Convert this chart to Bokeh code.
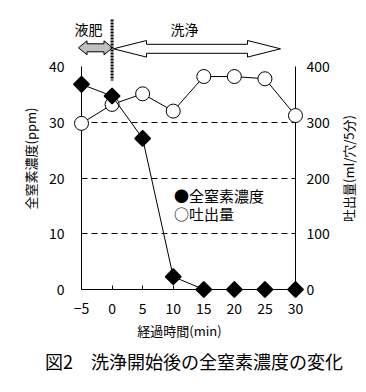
from bokeh.plotting import figure
from bokeh.models import Range1d, LinearAxis, FixedTicker
from bokeh.core.properties import value
from bokeh.embed import file_html
from bokeh.resources import INLINE
import math

# ---- data ----
times = [-5, 0, 5, 10, 15, 20, 25, 30]
total_n = [36.8, 34.7, 27.1, 2.3, 0, 0, 0, 0]          # 全窒素濃度 (ppm)
discharge = [298, 332, 351, 320, 382, 382, 378, 312]  # 吐出量 (ml/穴/5分)
x_ticks = [-5, 0, 5, 10, 15, 20, 25, 30]
left_ticks = [0, 10, 20, 30, 40]
right_ticks = [0, 100, 200, 300, 400]

FONT = "Noto Sans CJK JP"

# ---- layout (page pixels) ----
FL, FT, FW, FH = 81, 66, 214, 223
XS = FW / 35.0
YS = FH / 40.0


def dx(px):
    return -5 + (px - FL) / XS


def dy(py):
    return (FT + FH - py) / YS


p = figure(frame_width=FW, frame_height=FH,
           x_range=Range1d(-5, 30), y_range=Range1d(0, 40),
           output_backend="svg", toolbar_location=None,
           min_border_left=FL, min_border_top=FT,
           min_border_right=366 - FL - FW,
           min_border_bottom=392 - FT - FH,
           outline_line_color=None,
           background_fill_color="white", border_fill_color="white")
p.extra_y_ranges = {"right": Range1d(0, 400)}
raxis = LinearAxis(y_range_name="right")
p.add_layout(raxis, "right")

p.xaxis.ticker = FixedTicker(ticks=x_ticks)
p.yaxis[0].ticker = FixedTicker(ticks=left_ticks)
raxis.ticker = FixedTicker(ticks=right_ticks)

for ax in [p.xaxis[0], p.yaxis[0], raxis]:
    ax.axis_line_color = "black"
    ax.axis_line_width = 1
    ax.minor_tick_line_color = None
    ax.major_tick_line_color = "black"
    ax.major_label_text_font = FONT
    ax.major_label_text_font_size = "14px"
    ax.major_label_text_color = "black"

p.xaxis.major_tick_in = 4
p.xaxis.major_tick_out = 0
p.xaxis.major_label_standoff = 13
p.yaxis[0].major_tick_in = 0
p.yaxis[0].major_tick_out = 0
p.yaxis[0].major_label_standoff = 17
raxis.major_tick_in = 0
raxis.major_tick_out = 0
raxis.major_label_standoff = 11

p.xgrid.visible = False
p.ygrid.ticker = FixedTicker(ticks=[10, 20, 30, 40])
p.ygrid.grid_line_color = "black"
p.ygrid.grid_line_width = 1
p.ygrid.grid_line_dash = "6 4"

# ---- series ----
p.line(times, discharge, y_range_name="right", line_color="black", line_width=1, level="overlay")
p.scatter(times, discharge, y_range_name="right", marker="circle", size=14,
          fill_color="white", line_color="black", line_width=1, level="overlay")
p.line(times, total_n, line_color="black", line_width=1, level="overlay")
p.scatter(times, total_n, marker="square", angle=math.pi / 4, size=11,
          fill_color="black", line_color="black", line_width=1.5, level="overlay")


# ---- arrows and marker line above the plot ----
def arrow(x0, x1, yc, hl, hh, sh):
    pts = [(x0, yc), (x0 + hl, yc - hh), (x0 + hl, yc - sh), (x1 - hl, yc - sh),
           (x1 - hl, yc - hh), (x1, yc), (x1 - hl, yc + hh), (x1 - hl, yc + sh),
           (x0 + hl, yc + sh), (x0 + hl, yc + hh)]
    return [dx(a) for a, b in pts], [dy(b) for a, b in pts]


gx, gy = arrow(78, 112, 47.3, 8.5, 7, 4)
p.patch(gx, gy, fill_color="#c0c0c0", line_color="black", line_width=1, level="overlay")
wx, wy = arrow(113, 280, 48.3, 33, 8.3, 4.5)
p.patch(wx, wy, fill_color="white", line_color="black", line_width=1, level="overlay")
p.line([0, 0], [dy(19), dy(80)], line_color="black", line_width=3, line_dash="2 1", level="overlay")


def lab(px, py, text, size, align="center", angle=0):
    p.text(x=[dx(px)], y=[dy(py)], text=[text], text_font=value(FONT),
           text_font_size=size, text_align=align, text_baseline="middle",
           text_color="black", angle=angle, level="overlay")


lab(88, 28, "液肥", "14px")
lab(184, 28, "洗浄", "14px")
lab(30, 158, "全窒素濃度(ppm)", "13px", angle=math.pi / 2)
lab(348, 168, "吐出量(ml/穴/5分)", "13px", angle=math.pi / 2)
lab(179, 330, "経過時間(min)", "13px")
lab(193.5, 360, "図2　洗浄開始後の全窒素濃度の変化", "18px")
lab(173.5, 195, "●全窒素濃度", "15px", align="left")
lab(173.5, 213, "○吐出量", "15px", align="left")

open("out.html", "w").write(file_html(p, INLINE))
